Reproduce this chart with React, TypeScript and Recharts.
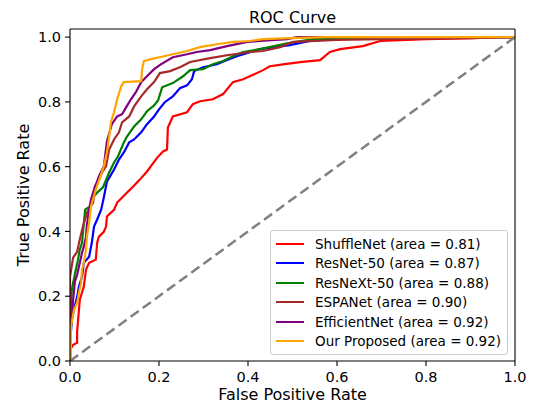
import React from "react";
import { LineChart, Line, XAxis, YAxis, Legend, Label, ReferenceLine } from "recharts";

const FONT = "'DejaVu Sans', Verdana, sans-serif";

// [false positive rate, true positive rate]
const shuffleNet = [
  [0, 0], [0, 0.034], [0.007, 0.05], [0.016, 0.056], [0.016, 0.09], [0.022, 0.189],
  [0.031, 0.229], [0.036, 0.282], [0.043, 0.303], [0.058, 0.313], [0.061, 0.365],
  [0.065, 0.384], [0.076, 0.399], [0.081, 0.415], [0.083, 0.446], [0.092, 0.458],
  [0.099, 0.467], [0.106, 0.489], [0.115, 0.502], [0.126, 0.517], [0.135, 0.529],
  [0.157, 0.56], [0.173, 0.585], [0.196, 0.628], [0.209, 0.647], [0.218, 0.653],
  [0.22, 0.721], [0.231, 0.755], [0.263, 0.768], [0.276, 0.793], [0.292, 0.802],
  [0.321, 0.808], [0.344, 0.824], [0.353, 0.839], [0.366, 0.861], [0.389, 0.87],
  [0.404, 0.879], [0.434, 0.898], [0.449, 0.91], [0.479, 0.916], [0.517, 0.923],
  [0.562, 0.929], [0.584, 0.954], [0.607, 0.963], [0.658, 0.972], [0.697, 0.988],
  [0.802, 0.994], [0.906, 0.997], [0.966, 1.0], [1, 1],
];

const resNet50 = [
  [0, 0], [0, 0.05], [0.004, 0.127], [0.009, 0.158], [0.016, 0.198], [0.02, 0.229],
  [0.027, 0.26], [0.031, 0.303], [0.043, 0.322], [0.049, 0.365], [0.054, 0.415],
  [0.061, 0.437], [0.07, 0.467], [0.076, 0.505], [0.083, 0.554], [0.09, 0.57],
  [0.099, 0.591], [0.11, 0.622], [0.121, 0.644], [0.133, 0.675], [0.144, 0.684],
  [0.16, 0.706], [0.173, 0.731], [0.189, 0.755], [0.2, 0.777], [0.213, 0.799],
  [0.231, 0.817], [0.247, 0.842], [0.263, 0.851], [0.274, 0.87], [0.279, 0.895],
  [0.299, 0.907], [0.33, 0.916], [0.353, 0.929], [0.375, 0.941], [0.427, 0.963],
  [0.494, 0.975], [0.539, 0.988], [0.591, 0.994], [0.697, 0.997], [0.854, 1.0], [1, 1],
];

const resNeXt50 = [
  [0, 0], [0, 0.096], [0.004, 0.22], [0.013, 0.282], [0.018, 0.313], [0.022, 0.344],
  [0.027, 0.365], [0.034, 0.467], [0.045, 0.477], [0.052, 0.505], [0.061, 0.52],
  [0.074, 0.536], [0.088, 0.582], [0.099, 0.613], [0.108, 0.632], [0.121, 0.675],
  [0.128, 0.693], [0.144, 0.724], [0.16, 0.746], [0.173, 0.771], [0.189, 0.789],
  [0.198, 0.805], [0.207, 0.845], [0.231, 0.858], [0.254, 0.879], [0.27, 0.898],
  [0.299, 0.901], [0.321, 0.916], [0.344, 0.926], [0.366, 0.941], [0.389, 0.954],
  [0.427, 0.963], [0.488, 0.981], [0.546, 0.994], [0.622, 0.997], [0.787, 1.0], [1, 1],
];

const espaNet = [
  [0, 0], [0, 0.26], [0.007, 0.319], [0.016, 0.337], [0.022, 0.375], [0.029, 0.415],
  [0.038, 0.458], [0.052, 0.489], [0.056, 0.539], [0.065, 0.56], [0.072, 0.582],
  [0.081, 0.601], [0.088, 0.653], [0.099, 0.684], [0.11, 0.706], [0.117, 0.737],
  [0.133, 0.755], [0.144, 0.786], [0.16, 0.817], [0.173, 0.839], [0.189, 0.861],
  [0.202, 0.889], [0.225, 0.895], [0.247, 0.907], [0.27, 0.923], [0.315, 0.935],
  [0.353, 0.944], [0.404, 0.954], [0.434, 0.957], [0.472, 0.969], [0.501, 0.985],
  [0.6, 0.991], [0.697, 0.994], [0.899, 0.997], [1, 1],
];

const efficientNet = [
  [0, 0], [0, 0.096], [0.004, 0.118], [0.007, 0.189], [0.011, 0.245], [0.016, 0.266],
  [0.02, 0.291], [0.027, 0.334], [0.031, 0.353], [0.036, 0.384], [0.038, 0.421],
  [0.043, 0.467], [0.047, 0.498], [0.054, 0.529], [0.065, 0.57], [0.076, 0.601],
  [0.083, 0.678], [0.094, 0.731], [0.106, 0.755], [0.117, 0.762], [0.126, 0.783],
  [0.137, 0.808], [0.148, 0.83], [0.16, 0.861], [0.173, 0.879], [0.189, 0.901],
  [0.204, 0.916], [0.231, 0.938], [0.263, 0.947], [0.285, 0.954], [0.315, 0.96],
  [0.353, 0.972], [0.398, 0.985], [0.427, 0.988], [0.488, 0.994], [0.51, 1.0], [1, 1],
];

const ourProposed = [
  [0, 0], [0.002, 0.012], [0.002, 0.105], [0.009, 0.158], [0.016, 0.18], [0.02, 0.211],
  [0.025, 0.241], [0.027, 0.282], [0.031, 0.303], [0.036, 0.344], [0.038, 0.384],
  [0.043, 0.427], [0.047, 0.477], [0.058, 0.529], [0.07, 0.576], [0.076, 0.601],
  [0.083, 0.644], [0.088, 0.693], [0.092, 0.737], [0.099, 0.768], [0.106, 0.808],
  [0.115, 0.848], [0.121, 0.861], [0.16, 0.864], [0.162, 0.901], [0.166, 0.926],
  [0.182, 0.932], [0.211, 0.941], [0.231, 0.947], [0.263, 0.957], [0.292, 0.969],
  [0.33, 0.978], [0.366, 0.985], [0.404, 0.988], [0.434, 0.994], [0.494, 0.997],
  [0.578, 1.0], [1, 1],
];

const chance = [[0, 0], [1, 1]];

const axisTicks = [0, 0.2, 0.4, 0.6, 0.8, 1.0];
const Y_MAX = 1.025;

const series = [
  { name: "ShuffleNet (area = 0.81)", color: "#ff0000", points: shuffleNet },
  { name: "ResNet-50 (area = 0.87)", color: "#0000ff", points: resNet50 },
  { name: "ResNeXt-50 (area = 0.88)", color: "#008000", points: resNeXt50 },
  { name: "ESPANet (area = 0.90)", color: "#a52a2a", points: espaNet },
  { name: "EfficientNet (area = 0.92)", color: "#800080", points: efficientNet },
  { name: "Our Proposed (area = 0.92)", color: "#ffa500", points: ourProposed },
];

const toRows = (pts: number[][]) => pts.map(([fpr, tpr]) => ({ fpr, tpr }));

const tickStyle = { fill: "#000", fontSize: 14.5, fontFamily: FONT };
const spine = { stroke: "#000", strokeWidth: 1.1 };

const LegendBox = () => (
  <div
    style={{
      boxSizing: "border-box",
      width: 238,
      height: 125,
      padding: "3px 0 0 0",
      border: "1px solid #cccccc",
      borderRadius: 3,
      background: "rgba(255,255,255,0.8)",
      fontFamily: FONT,
      fontSize: 13.5,
      color: "#000",
    }}
  >
    {series.map((s) => (
      <div key={s.name} style={{ display: "flex", alignItems: "center", height: 19.5 }}>
        <span style={{ display: "inline-block", width: 28, height: 2, background: s.color, marginLeft: 5, marginRight: 11 }} />
        <span style={{ whiteSpace: "nowrap" }}>{s.name}</span>
      </div>
    ))}
  </div>
);

export default function App() {
  return (
    <div style={{ position: "absolute", left: 0, top: 0, width: 535, height: 404, background: "#fff" }}>
      <LineChart width={535} height={404} margin={{ top: 29, right: 20, bottom: 0, left: 0 }}>
        <XAxis
          dataKey="fpr"
          type="number"
          domain={[0, 1]}
          ticks={axisTicks}
          tickFormatter={(v: number) => v.toFixed(1)}
          allowDataOverflow
          height={43}
          tick={tickStyle}
          tickSize={5}
          tickMargin={6}
          axisLine={spine}
          tickLine={spine}
        >
          <Label
            content={(props: any) => {
              const vb = props.viewBox;
              return (
                <text x={vb.x + vb.width / 2} y={400} textAnchor="middle" fontSize={16} fontFamily={FONT} fill="#000">
                  False Positive Rate
                </text>
              );
            }}
          />
        </XAxis>
        <YAxis
          type="number"
          domain={[0, Y_MAX]}
          ticks={axisTicks}
          tickFormatter={(v: number) => v.toFixed(1)}
          allowDataOverflow
          width={70}
          tick={tickStyle}
          tickSize={5}
          tickMargin={4}
          axisLine={spine}
          tickLine={spine}
        >
          <Label
            content={(props: any) => {
              const vb = props.viewBox;
              const cy = vb.y + vb.height / 2;
              return (
                <text
                  x={23}
                  y={cy}
                  transform={`rotate(-90, 23, ${cy})`}
                  textAnchor="middle"
                  dominantBaseline="central"
                  fontSize={16}
                  fontFamily={FONT}
                  fill="#000"
                >
                  True Positive Rate
                </text>
              );
            }}
          />
        </YAxis>
        {series.map((s) => (
          <Line
            key={s.name}
            data={toRows(s.points)}
            dataKey="tpr"
            name={s.name}
            type="linear"
            stroke={s.color}
            strokeWidth={2.2}
            dot={false}
            activeDot={false}
            isAnimationActive={false}
          />
        ))}
        <Line
          data={toRows(chance)}
          dataKey="tpr"
          type="linear"
          stroke="#808080"
          strokeWidth={2.5}
          strokeDasharray="10 5"
          dot={false}
          activeDot={false}
          legendType="none"
          isAnimationActive={false}
        />
        <ReferenceLine x={1} stroke="#000" strokeWidth={1.1} ifOverflow="visible" />
        <ReferenceLine
          y={Y_MAX}
          stroke="#000"
          strokeWidth={1.1}
          ifOverflow="visible"
          label={(props: any) => {
            const vb = props.viewBox;
            return (
              <text x={vb.x + vb.width / 2} y={23} textAnchor="middle" fontSize={16} fontFamily={FONT} fill="#000">
                ROC Curve
              </text>
            );
          }}
        />
        <Legend
          layout="vertical"
          align="center"
          verticalAlign="middle"
          content={() => <LegendBox />}
          wrapperStyle={{ position: "absolute", left: 270, top: 230, width: 238, height: 125 }}
        />
      </LineChart>
    </div>
  );
}
